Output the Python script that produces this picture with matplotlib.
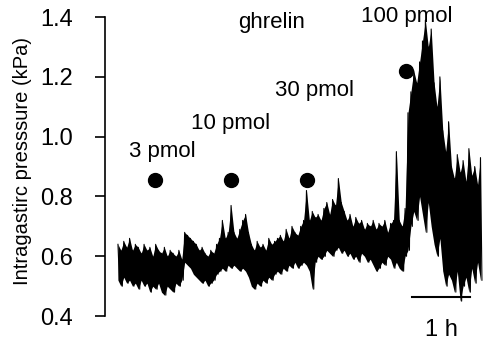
import matplotlib
matplotlib.use("Agg")
import matplotlib.pyplot as plt

plt.rcParams['font.family'] = ['Liberation Sans', 'DejaVu Sans']

step = 0.05
hi = [0.64, 0.62, 0.65, 0.63, 0.66, 0.62, 0.64, 0.63, 0.61, 0.64,
      0.62, 0.63, 0.60, 0.64, 0.62, 0.61, 0.63, 0.60, 0.62, 0.61,
      0.60, 0.62, 0.59, 0.68, 0.67, 0.66, 0.65, 0.64, 0.62, 0.63,
      0.61, 0.60, 0.62, 0.61, 0.64, 0.66, 0.72, 0.66, 0.68, 0.77,
      0.68, 0.66, 0.69, 0.72, 0.74, 0.68, 0.64, 0.62, 0.65, 0.63,
      0.64, 0.62, 0.66, 0.64, 0.65, 0.66, 0.67, 0.65, 0.69, 0.66,
      0.70, 0.68, 0.67, 0.70, 0.72, 0.82, 0.72, 0.75, 0.73, 0.74,
      0.72, 0.76, 0.78, 0.74, 0.79, 0.77, 0.86, 0.78, 0.75, 0.72,
      0.74, 0.70, 0.73, 0.71, 0.72, 0.69, 0.71, 0.70, 0.72, 0.69,
      0.71, 0.70, 0.72, 0.68, 0.71, 0.72, 0.95, 0.72, 0.70, 0.76,
      1.08, 1.15, 1.22, 1.18, 1.25, 1.32, 1.39, 1.30, 1.36, 1.18,
      1.10, 1.20, 1.02, 0.95, 1.05, 0.90, 0.86, 0.94, 0.88, 0.92,
      0.85, 0.96, 0.87, 0.90, 0.84, 0.93]
lo = [0.52, 0.50, 0.53, 0.51, 0.52, 0.50, 0.51, 0.49, 0.52, 0.50,
      0.51, 0.48, 0.50, 0.49, 0.51, 0.48, 0.47, 0.50, 0.49, 0.48,
      0.51, 0.50, 0.52, 0.58, 0.57, 0.56, 0.54, 0.53, 0.52, 0.51,
      0.52, 0.50, 0.51, 0.52, 0.54, 0.55, 0.56, 0.55, 0.57, 0.56,
      0.57, 0.56, 0.55, 0.56, 0.55, 0.53, 0.50, 0.49, 0.51, 0.50,
      0.52, 0.51, 0.53, 0.52, 0.54, 0.55, 0.54, 0.56, 0.55, 0.57,
      0.56, 0.58, 0.56, 0.57, 0.58, 0.57, 0.55, 0.49, 0.58, 0.60,
      0.59, 0.60, 0.62, 0.61, 0.60, 0.62, 0.63, 0.61, 0.62, 0.60,
      0.61, 0.59, 0.60, 0.58, 0.61, 0.60, 0.58, 0.59, 0.57, 0.55,
      0.56, 0.58, 0.57, 0.60, 0.59, 0.56, 0.58, 0.56, 0.55, 0.60,
      0.62, 0.70, 0.75, 0.72, 0.80, 0.74, 0.68, 0.78, 0.70, 0.64,
      0.60, 0.66, 0.55, 0.50, 0.54, 0.52, 0.48, 0.55, 0.45, 0.50,
      0.53, 0.48, 0.56, 0.51, 0.58, 0.52]

# ghrelin doses (time in h, marker level in kPa)
dose_labels = ["3 pmol", "10 pmol", "30 pmol", "100 pmol"]
dose_t = [0.64, 1.95, 3.26, 4.97]
dose_y = [0.855, 0.855, 0.855, 1.22]
label_t = [0.77, 1.94, 3.38, 4.98]
label_y = [0.950, 1.044, 1.155, 1.403]

t = [i * step for i in range(len(hi))]

# zigzag between upper and lower values so the trace fills like the recording
tx, ty = [], []
for i in range(len(hi)):
    tx.append(t[i])
    ty.append(hi[i])
    tx.append(t[i] + step / 2)
    ty.append(lo[i])

fig = plt.figure(figsize=(4.86, 3.41), dpi=100)
ax = fig.add_axes([0.216, 0.073, 0.784, 0.877])

ax.fill_between(t, lo, hi, color='black', lw=0)
ax.plot(tx, ty, color='black', lw=0.8)
ax.plot(dose_t, dose_y, 'o', color='black', ms=10)
for lab, x, y in zip(dose_labels, label_t, label_y):
    ax.text(x, y, lab, ha='center', va='center', fontsize=16)
ax.text(2.65, 1.383, "ghrelin", ha='center', va='center', fontsize=16)

# 1 h scale bar
ax.plot([5.07, 6.07], [0.464, 0.464], color='black', lw=1.5, clip_on=False)
ax.text(5.57, 0.355, "1 h", ha='center', va='center', fontsize=17, clip_on=False)

ax.set_xlim(-0.224, 6.345)
ax.set_ylim(0.4, 1.4)
ax.set_yticks([0.4, 0.6, 0.8, 1.0, 1.2, 1.4])
ax.set_yticklabels(["0.4", "0.6", "0.8", "1.0", "1.2", "1.4"])
ax.tick_params(axis='y', direction='out', length=7, width=1.2, labelsize=17, pad=16)
ax.set_xticks([])
for s in ['top', 'right', 'bottom']:
    ax.spines[s].set_visible(False)
ax.spines['left'].set_linewidth(1.2)
ax.set_ylabel("Intragastirc presssure (kPa)", fontsize=14.5)
ax.yaxis.set_label_coords(-0.192, 0.52)

fig.savefig("out.png", dpi=100)
